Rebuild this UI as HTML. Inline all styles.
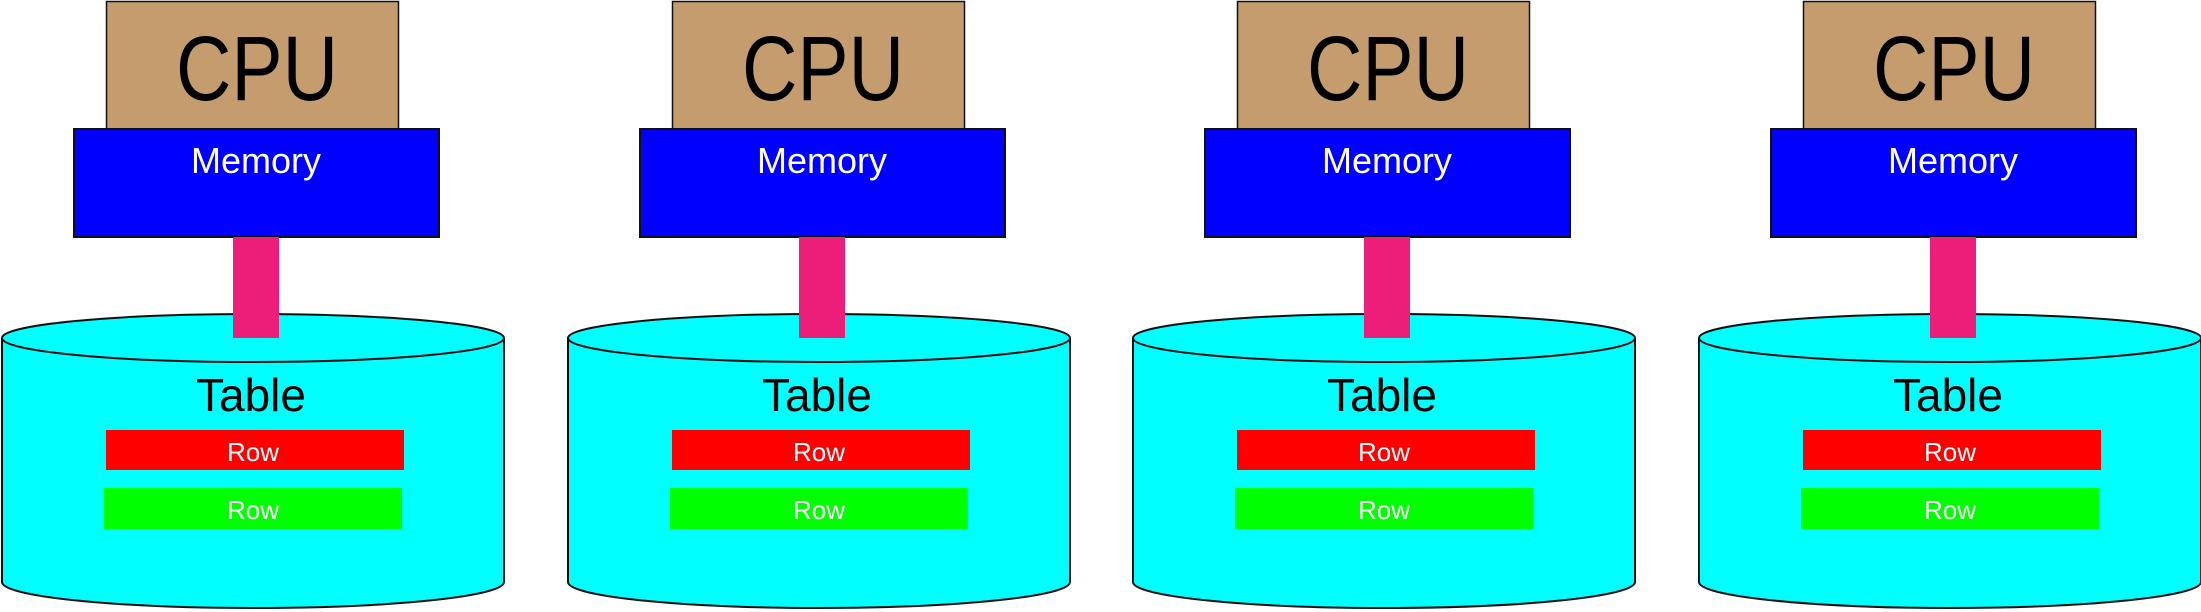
<!DOCTYPE html>
<html><head><meta charset="utf-8"><style>
html,body{margin:0;padding:0;background:#fff;width:2201px;height:612px;overflow:hidden}
svg text{font-family:"Liberation Sans",sans-serif;text-anchor:middle}
</style></head><body>
<svg width="2201" height="612" viewBox="0 0 2201 612" xmlns="http://www.w3.org/2000/svg">
<defs>
<g id="u">
  <rect x="106.5" y="1.5" width="292" height="128" fill="#C49C6E" stroke="#111" stroke-width="1.5"/>
  <text x="257" y="100" font-size="92" fill="#000" textLength="162" lengthAdjust="spacingAndGlyphs">CPU</text>
  <rect x="74" y="129" width="365" height="108" fill="#0000FF" stroke="#111" stroke-width="2"/>
  <text x="256" y="173" font-size="36" fill="#fff">Memory</text>
  <path d="M2,338 L2,582 A251,26 0 0 0 504,582 L504,338" fill="#00FFFF" stroke="#111" stroke-width="2"/>
  <ellipse cx="253" cy="338" rx="251" ry="24" fill="#00FFFF" stroke="#111" stroke-width="2"/>
  <rect x="233" y="237" width="46" height="101" fill="#ED1E79"/>
  <text x="251" y="411" font-size="46" fill="#000">Table</text>
  <rect x="106" y="430" width="298" height="40" fill="#FF0000"/>
  <text x="253" y="461" font-size="26" fill="#fff">Row</text>
  <rect x="104" y="488" width="298" height="41" fill="#00FF00"/>
  <text x="253" y="519" font-size="26" fill="#fff">Row</text>
</g>
</defs>
<use href="#u" x="0" y="0"/>
<use href="#u" x="566" y="0"/>
<use href="#u" x="1131" y="0"/>
<use href="#u" x="1697" y="0"/>
</svg>
</body></html>
